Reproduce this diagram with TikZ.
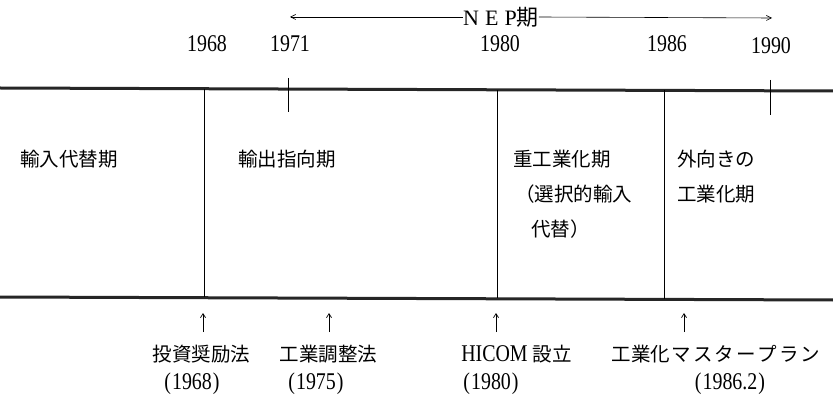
\documentclass[tikz,border=0pt]{standalone}
\usepackage{fontspec}
\setmainfont{Liberation Serif}
\newfontfamily\jp{Noto Sans CJK JP}
\newfontfamily\numf[FakeStretch=0.83]{Liberation Serif}
\usetikzlibrary{arrows.meta}
\begin{document}
\begin{tikzpicture}[x=1pt,y=-1pt,
  band/.style={line width=3pt,draw=black!85},
  sep/.style={line width=0.7pt},
  yr/.style={font=\numf\fontsize{24}{24}\selectfont,inner sep=0pt},
  jt/.style={font=\jp\fontsize{19.5}{35}\selectfont,inner sep=0pt,align=left,anchor=north west},
  lb/.style={font=\numf\fontsize{24}{24}\selectfont,inner sep=0pt},
  lbj/.style={font=\jp\fontsize{19.5}{19.5}\selectfont,inner sep=0pt},
  up/.style={-{Straight Barb[length=4pt,width=5pt]},line width=0.7pt}]
\useasboundingbox (0,0) rectangle (833,398);
% bands
\coordinate (tl) at (0,88); \coordinate (tr) at (833,91);
\coordinate (bl) at (0,297); \coordinate (br) at (833,300);
\draw[band] (tl) -- (tr);
\draw[band] (bl) -- (br);
% separators
\coordinate (s1a) at (204,89); \coordinate (s1b) at (204,297);
\coordinate (s2a) at (497,90); \coordinate (s2b) at (497,298);
\coordinate (s3a) at (664,90); \coordinate (s3b) at (664,299);
\draw[sep] (s1a) -- (s1b);
\draw[sep] (s2a) -- (s2b);
\draw[sep] (s3a) -- (s3b);
% ticks
\coordinate (t1a) at (288,78); \coordinate (t1b) at (288,112);
\coordinate (t2a) at (770,80); \coordinate (t2b) at (770,115);
\draw[sep] (t1a) -- (t1b);
\draw[sep] (t2a) -- (t2b);
% years
\node[yr] (y68) at (207,44) {1968};
\node[yr] (y71) at (290,44) {1971};
\node[yr] (y80) at (500,44) {1980};
\node[yr] (y86) at (667,44) {1986};
\node[yr] (y90) at (771,46) {1990};
% NEP
\node[yr,font=\fontsize{22}{22}\selectfont] (nep) at (501,17) {N\hspace{6pt}E\hspace{6pt}P{\jp 期}};
\coordinate (nl) at (290,17); \coordinate (nr) at (772,18);
\draw[-{Straight Barb[length=5pt,width=5pt]},line width=0.6pt] (nep.west) -- (nl);
\draw[-{Straight Barb[length=5pt,width=5pt]},line width=0.6pt] (nep.east) -- (nr);
% period labels
\node[jt] (p1) at (20,150) {輸入代替期};
\node[jt] (p2) at (238,150) {輸出指向期};
\node[jt] (p3) at (513,150) {重工業化期\\\hspace*{2pt}（選択的輸入\\\hspace*{18pt}代替）};
\node[jt] (p4) at (677,150) {外向きの\\工業化期};
% bottom
\coordinate (a1) at (203,313); \coordinate (a2) at (329,313);
\coordinate (a3) at (496,313); \coordinate (a4) at (684,313);
\node[lbj] (l1) at (201.5,354) {投資奨励法};
\node[lbj] (l2) at (328.5,354) {工業調整法};
\node[lb] (l3) at (516.5,354) {HICOM\hspace{5pt}{\jp\fontsize{19.5}{19.5}\selectfont 設立}};
\node[lbj] (l4) at (716,354) {工業化\hspace{2pt}マ\hspace{2pt}ス\hspace{2pt}タ\hspace{2pt}ー\hspace{2pt}プ\hspace{2pt}ラ\hspace{2pt}ン};
\node[lb] (d1) at (192,384) {(\kern1pt1968\kern1pt)};
\node[lb] (d2) at (316,384) {(\kern1pt1975\kern1pt)};
\node[lb] (d3) at (491,384) {(\kern1pt1980\kern1pt)};
\node[lb] (d4) at (730,384) {(\kern1pt1986.2\kern1pt)};
\coordinate (b1) at (203,332); \coordinate (b2) at (329,332);
\coordinate (b3) at (496,332); \coordinate (b4) at (684,332);
\draw[up] (b1) -- (a1);
\draw[up] (b2) -- (a2);
\draw[up] (b3) -- (a3);
\draw[up] (b4) -- (a4);
\end{tikzpicture}
\end{document}
